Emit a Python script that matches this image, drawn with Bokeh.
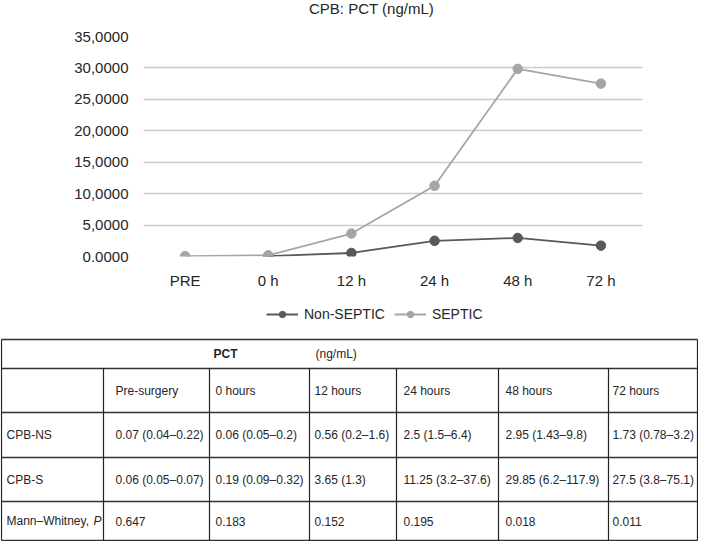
from bokeh.plotting import figure
from bokeh.models import (FactorRange, Range1d, FixedTicker, Legend, LegendItem,
                          ColumnDataSource)
from bokeh.layouts import column
from bokeh.embed import file_html
from bokeh.resources import INLINE
from bokeh.core.properties import value

# ---------------- data ----------------
categories = ["PRE", "0 h", "12 h", "24 h", "48 h", "72 h"]
non_septic_cats = ["0 h", "12 h", "24 h", "48 h", "72 h"]
non_septic = [0.06, 0.56, 2.5, 2.95, 1.73]
septic_cats = ["PRE", "0 h", "12 h", "24 h", "48 h", "72 h"]
septic = [0.06, 0.19, 3.65, 11.25, 29.85, 27.5]
y_ticks = [0, 5, 10, 15, 20, 25, 30, 35]
y_tick_labels = ["0.0000", "5,0000", "10,0000", "15,0000", "20,0000",
                 "25,0000", "30,0000", "35,0000"]
chart_title = "CPB: PCT (ng/mL)"
series_names = ["Non-SEPTIC", "SEPTIC"]

table_title = "PCT"
table_unit = "(ng/mL)"
col_headers = ["Pre-surgery", "0 hours", "12 hours", "24 hours", "48 hours", "72 hours"]
row_labels = ["CPB-NS", "CPB-S", "Mann\u2013Whitney, "]
p_label = "P"
cpb_ns = ["0.07 (0.04\u20130.22)", "0.06 (0.05\u20130.2)", "0.56 (0.2\u20131.6)",
          "2.5 (1.5\u20136.4)", "2.95 (1.43\u20139.8)", "1.73 (0.78\u20133.2)"]
cpb_s = ["0.06 (0.05\u20130.07)", "0.19 (0.09\u20130.32)", "3.65 (1.3)",
         "11.25 (3.2\u201337.6)", "29.85 (6.2\u2013117.9)", "27.5 (3.8\u201375.1)"]
mann_whitney = ["0.647", "0.183", "0.152", "0.195", "0.018", "0.011"]

FONT = "Liberation Sans"
TXT = "#262626"
DARK = "#595959"
LIGHT = "#a5a5a5"
W = 698


def strip(height, x_range=None, y_range=None):
    f = figure(width=W, height=height,
               x_range=x_range if x_range is not None else Range1d(0, W),
               y_range=y_range if y_range is not None else Range1d(height, 0),
               output_backend="svg", toolbar_location=None, min_border=0,
               x_axis_type=None, y_axis_type=None)
    f.frame_align = False
    f.grid.visible = False
    f.outline_line_color = None
    return f


# ---------------- title strip ----------------
TT = 20
ttl = strip(TT)
ttl.text(x=[371], y=[8], text=[chart_title], text_font=value(FONT),
         text_font_size="15px", text_color=TXT, text_align="center",
         text_baseline="middle")

# ---------------- chart ----------------
p = figure(width=W, height=272,
           x_range=FactorRange(factors=categories, range_padding=0),
           y_range=Range1d(0, 35),
           output_backend="svg", toolbar_location=None,
           min_border_left=143, min_border_right=W - 642,
           min_border_top=16, min_border_bottom=36)
p.frame_align = False
p.outline_line_color = None

p.xgrid.visible = False
p.ygrid.ticker = FixedTicker(ticks=y_ticks)
p.ygrid.grid_line_color = "#cccccc"
p.ygrid.grid_line_width = 1.5

p.yaxis.ticker = FixedTicker(ticks=y_ticks)
p.yaxis.major_label_overrides = {t: l for t, l in zip(y_ticks, y_tick_labels)}
for ax in (p.xaxis[0], p.yaxis[0]):
    ax.axis_line_color = None
    ax.major_tick_line_color = None
    ax.minor_tick_line_color = None
    ax.major_tick_out = 0
    ax.major_tick_in = 0
    ax.major_label_text_font = FONT
    ax.major_label_text_font_size = "15px"
    ax.major_label_text_color = TXT
    ax.major_label_standoff = 15

src_ns = ColumnDataSource(dict(x=non_septic_cats, y=non_septic))
src_s = ColumnDataSource(dict(x=septic_cats, y=septic))
p.line("x", "y", source=src_ns, line_color=DARK, line_width=1.8)
p.scatter("x", "y", source=src_ns, size=9.5, fill_color=DARK, line_color=DARK)
p.line("x", "y", source=src_s, line_color=LIGHT, line_width=1.8)
p.scatter("x", "y", source=src_s, size=9.5, fill_color=LIGHT, line_color=LIGHT)

# ---------------- legend strip ----------------
# same series, drawn outside this strip's visible y-range; only the legend shows
LH = 44
lg = strip(LH, x_range=FactorRange(factors=categories, range_padding=0),
           y_range=Range1d(1000, 1001))
items = []
for name, src, col in zip(series_names, [src_ns, src_s], [DARK, LIGHT]):
    r1 = lg.line("x", "y", source=src, line_color=col, line_width=1.8)
    r2 = lg.scatter("x", "y", source=src, size=9.5, fill_color=col, line_color=col)
    items.append(LegendItem(label=name, renderers=[r1, r2]))
legend = Legend(items=items, orientation="horizontal", location=(266, 14),
                glyph_width=32, glyph_height=16, label_standoff=6, spacing=9,
                padding=0, margin=0, border_line_color=None,
                background_fill_alpha=0,
                label_text_font=FONT, label_text_font_size="14px",
                label_text_color=TXT)
lg.add_layout(legend, "center")

# ---------------- table ----------------
TH = 205
t = strip(TH)
row_edges = [3, 32, 76, 121, 165, 204]
col_edges = [1, 103, 209, 309, 396, 498, 608, 697]
pads = [5, 12, 6, 5, 7, 7, 4]

hx0, hx1, hy = [], [], []
for r in row_edges:
    hx0.append(col_edges[0]); hx1.append(col_edges[-1]); hy.append(r)
t.segment(x0=hx0, y0=hy, x1=hx1, y1=hy, line_color="#333333", line_width=1.3)
vx, vy0, vy1 = [], [], []
for i, c in enumerate(col_edges):
    vx.append(c)
    vy0.append(row_edges[0] if i in (0, len(col_edges) - 1) else row_edges[1])
    vy1.append(row_edges[-1])
t.segment(x0=vx, y0=vy0, x1=vx, y1=vy1, line_color="#222222", line_width=1.2)

centers = [(row_edges[i] + row_edges[i + 1]) / 2 for i in range(len(row_edges) - 1)]
cx = [col_edges[i] + pads[i] for i in range(len(col_edges) - 1)]

xs, ys, texts = [], [], []
for j, h in enumerate(col_headers):
    xs.append(cx[j + 1]); ys.append(centers[1]); texts.append(h)
for r, (lab, vals) in enumerate(zip(row_labels, [cpb_ns, cpb_s, mann_whitney])):
    xs.append(cx[0]); ys.append(centers[2 + r]); texts.append(lab)
    for j, v in enumerate(vals):
        xs.append(cx[j + 1]); ys.append(centers[2 + r]); texts.append(v)
xs.append(cx[3] + 1); ys.append(centers[0]); texts.append(table_unit)

t.text(x=xs, y=ys, text=texts, text_font=value(FONT), text_font_size="12px",
       text_color=TXT, text_baseline="middle", text_align="left")
t.text(x=[cx[2] - 2], y=[centers[0]], text=[table_title], text_font=value(FONT),
       text_font_size="12px", text_font_style="bold", text_color=TXT,
       text_baseline="middle", text_align="left")
t.text(x=[cx[0] + 87], y=[centers[4]], text=[p_label], text_font=value(FONT),
       text_font_size="12px", text_font_style="italic", text_color=TXT,
       text_baseline="middle", text_align="left")

layout = column(ttl, p, lg, t, spacing=0)
open("out.html", "w").write(file_html(layout, INLINE))
